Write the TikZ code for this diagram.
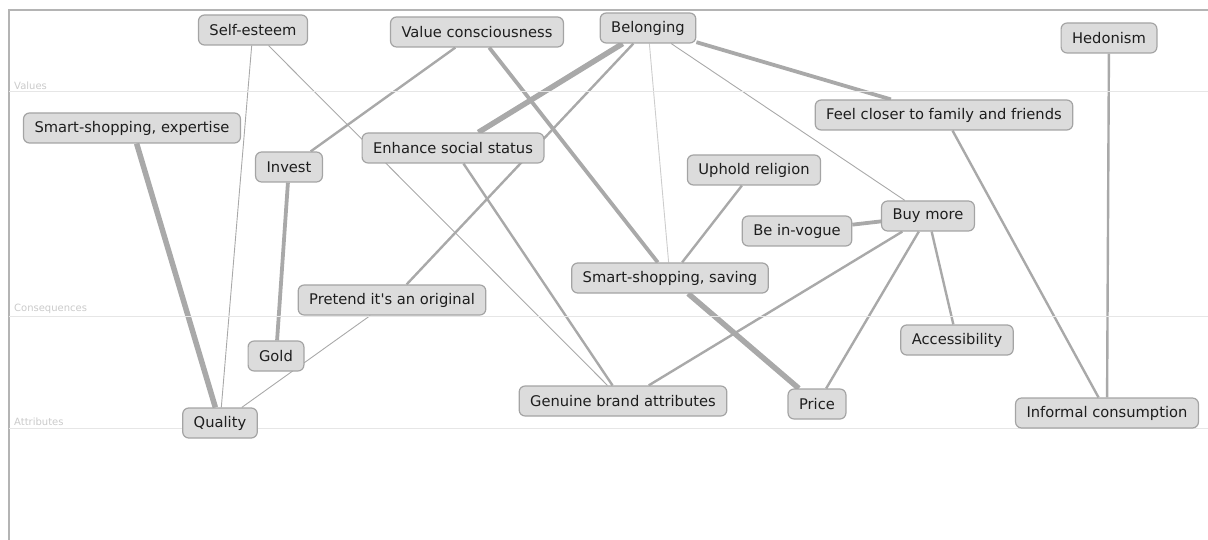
\documentclass[tikz,border=0pt]{standalone}
\usepackage{fontspec}
\setmainfont{DejaVu Sans}
\usepackage{xcolor}
\usetikzlibrary{backgrounds}

\definecolor{linkgray}{HTML}{A9A9A9}
\definecolor{faintgray}{HTML}{CDCDCD}
\definecolor{boxfill}{HTML}{DCDCDC}
\definecolor{boxline}{HTML}{A4A4A4}
\definecolor{bandgray}{HTML}{E6E6E6}
\definecolor{bandtext}{HTML}{CACACA}
\definecolor{framegray}{HTML}{B4B4B4}
\definecolor{conceptink}{HTML}{1E1E1E}

\tikzset{
	concept/.style={draw=boxline, fill=boxfill, rounded corners=6pt, line width=1.2pt,
		minimum height=30pt, inner xsep=11pt, inner ysep=0pt, text=conceptink,
		font=\fontsize{14.7}{17}\selectfont},
	band/.style={draw=bandgray, line width=1pt},
	bandlabel/.style={anchor=south west, inner sep=0pt, text=bandtext, font=\fontsize{10}{12}\selectfont},
	thinlink/.style={draw=linkgray, line width=0.9pt},
	faintlink/.style={draw=faintgray, line width=0.9pt},
	midlink/.style={draw=linkgray, line width=2.4pt},
	boldlink/.style={draw=linkgray, line width=3.8pt},
	heavylink/.style={draw=linkgray, line width=5.5pt}
}

\begin{document}
\begin{tikzpicture}[x=1pt,y=-1pt]
	\useasboundingbox (0,0) rectangle (1208,540);
	\draw[framegray, line width=1.2pt] (9,540)--(9,10)--(1208,10);
	\draw[band] (9,92)--(1208,92);
	\draw[band] (9,316)--(1208,316);
	\draw[band] (9,428)--(1208,428);
	\node[bandlabel] (lvalues) at (14,90) {Values};
	\node[bandlabel] (lconseq) at (14,314) {Consequences};
	\node[bandlabel] (lattrib) at (14,426) {Attributes};

	\node[concept] (selfesteem) at (253,30) {Self-esteem};
	\node[concept] (valuecons) at (477,32) {Value consciousness};
	\node[concept] (belonging) at (648,28) {Belonging};
	\node[concept] (hedonism) at (1109,38) {Hedonism};
	\node[concept] (expertise) at (132,128) {Smart-shopping, expertise};
	\node[concept] (closer) at (944,115) {Feel closer to family and friends};
	\node[concept] (invest) at (289,167) {Invest};
	\node[concept] (status) at (453,148) {Enhance social status};
	\node[concept] (religion) at (754,170) {Uphold religion};
	\node[concept] (vogue) at (797,231) {Be in-vogue};
	\node[concept] (buymore) at (928,216) {Buy more};
	\node[concept] (saving) at (670,278) {Smart-shopping, saving};
	\node[concept] (pretend) at (392,300) {Pretend it\textquotesingle s an original};
	\node[concept] (access) at (957,340) {Accessibility};
	\node[concept] (gold) at (276,356) {Gold};
	\node[concept] (genuine) at (623,401) {Genuine brand attributes};
	\node[concept] (price) at (817,404) {Price};
	\node[concept] (informal) at (1107,413) {Informal consumption};
	\node[concept] (quality) at (220,423) {Quality};

	\begin{pgfonlayer}{background}
		\draw[thinlink] (selfesteem)--(quality);
		\draw[thinlink] (selfesteem)--(genuine);
		\draw[heavylink] (expertise)--(quality);
		\draw[boldlink] (invest)--(gold);
		\draw[midlink] (valuecons)--(invest);
		\draw[boldlink] (valuecons)--(saving);
		\draw[heavylink] (saving)--(price);
		\draw[heavylink] (belonging)--(status);
		\draw[midlink] (belonging)--(pretend);
		\draw[faintlink] (belonging)--(saving);
		\draw[thinlink] (belonging)--(buymore);
		\draw[boldlink] (belonging)--(closer);
		\draw[midlink] (status)--(genuine);
		\draw[thinlink] (pretend)--(quality);
		\draw[midlink] (religion)--(saving);
		\draw[boldlink] (vogue)--(buymore);
		\draw[midlink] (buymore)--(genuine);
		\draw[midlink] (buymore)--(price);
		\draw[midlink] (buymore)--(access);
		\draw[midlink] (closer)--(informal);
		\draw[midlink] (hedonism)--(informal);
	\end{pgfonlayer}
\end{tikzpicture}
\end{document}
